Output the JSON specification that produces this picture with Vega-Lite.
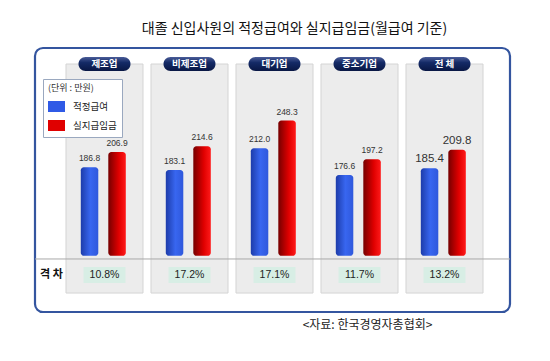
{
  "$schema": "https://vega.github.io/schema/vega-lite/v6.json",
  "width": 475,
  "height": 264,
  "autosize": {"type": "none"},
  "padding": {"left": 35, "top": 48, "right": 40, "bottom": 49},
  "background": "white",
  "title": {
    "text": "대졸 신입사원의 적정급여와 실지급임금(월급여 기준)",
    "font": "Noto Sans CJK KR",
    "fontSize": 14,
    "fontWeight": "normal",
    "color": "#111111",
    "anchor": "middle",
    "frame": "group",
    "dx": 22,
    "offset": 12
  },
  "config": {
    "font": "Noto Sans CJK KR",
    "view": {"stroke": "#34559f", "strokeWidth": 2.2, "cornerRadius": 8, "fill": "#f9fcfe"}
  },
  "datasets": {
    "cats": [
      {"cat": "제조업", "gap": "10.8%"},
      {"cat": "비제조업", "gap": "17.2%"},
      {"cat": "대기업", "gap": "17.1%"},
      {"cat": "중소기업", "gap": "11.7%"},
      {"cat": "전 체", "gap": "13.2%"}
    ],
    "bars": [
      {"cat": "제조업", "series": "적정급여", "value": 186.8},
      {"cat": "제조업", "series": "실지급임금", "value": 206.9},
      {"cat": "비제조업", "series": "적정급여", "value": 183.1},
      {"cat": "비제조업", "series": "실지급임금", "value": 214.6},
      {"cat": "대기업", "series": "적정급여", "value": 212.0},
      {"cat": "대기업", "series": "실지급임금", "value": 248.3},
      {"cat": "중소기업", "series": "적정급여", "value": 176.6},
      {"cat": "중소기업", "series": "실지급임금", "value": 197.2},
      {"cat": "전 체", "series": "적정급여", "value": 185.4},
      {"cat": "전 체", "series": "실지급임금", "value": 209.8}
    ]
  },
  "data": {"name": "cats"},
  "layer": [
    {
      "mark": {"type": "bar", "width": {"band": 0.906}, "fill": "#ececec", "stroke": "#d4d4d4", "strokeWidth": 1},
      "encoding": {
        "x": {"field": "cat", "type": "nominal", "axis": null, "scale": {"domain": ["제조업", "비제조업", "대기업", "중소기업", "전 체"], "paddingInner": 0, "paddingOuter": 0.294, "align": 0.54}},
        "y": {"datum": 322.9, "type": "quantitative", "axis": null, "scale": {"domain": [-4, 344], "nice": false, "zero": false}},
        "y2": {"datum": 21}
      }
    },
    {
      "mark": {"type": "bar", "width": 52, "cornerRadius": 7, "fill": {"gradient": "linear", "x1": 0, "y1": 0, "x2": 0, "y2": 1, "stops": [{"offset": 0, "color": "#4a5c98"}, {"offset": 0.4, "color": "#142a66"}, {"offset": 1, "color": "#091744"}]}},
      "encoding": {
        "x": {"field": "cat", "type": "nominal", "axis": null, "sort": null},
        "y": {"datum": 332.1, "type": "quantitative", "axis": null, "scale": {"domain": [-4, 344], "nice": false, "zero": false}},
        "y2": {"datum": 313.7}
      }
    },
    {
      "mark": {"type": "text", "color": "white", "fontWeight": "bold", "fontSize": 9.5, "baseline": "middle"},
      "encoding": {
        "x": {"field": "cat", "type": "nominal", "axis": null, "sort": null},
        "y": {"datum": 322.9, "type": "quantitative", "axis": null, "scale": {"domain": [-4, 344], "nice": false, "zero": false}},
        "text": {"field": "cat"}
      }
    },
    {
      "data": {"values": [{"line": "separator"}]},
      "mark": {"type": "rule", "color": "#a8a8a8", "strokeWidth": 1},
      "encoding": {
        "y": {"datum": 65.9, "type": "quantitative", "axis": null, "scale": {"domain": [-4, 344], "nice": false, "zero": false}}
      }
    },
    {
      "mark": {"type": "bar", "width": 42, "fill": "#d8eee5"},
      "encoding": {
        "x": {"field": "cat", "type": "nominal", "axis": null, "sort": null},
        "y": {"datum": 55.3, "type": "quantitative", "axis": null, "scale": {"domain": [-4, 344], "nice": false, "zero": false}},
        "y2": {"datum": 34.2}
      }
    },
    {
      "mark": {"type": "text", "fontSize": 10.5, "font": "Liberation Sans", "color": "#222222", "baseline": "middle"},
      "encoding": {
        "x": {"field": "cat", "type": "nominal", "axis": null, "sort": null},
        "y": {"datum": 44.8, "type": "quantitative", "axis": null, "scale": {"domain": [-4, 344], "nice": false, "zero": false}},
        "text": {"field": "gap"}
      }
    },
    {
      "data": {"values": [{"label": "격 차"}]},
      "mark": {"type": "text", "fontSize": 11, "fontWeight": "bold", "dx": -53, "baseline": "middle", "color": "#111111"},
      "encoding": {
        "x": {"datum": "제조업", "type": "nominal", "axis": null},
        "y": {"datum": 44.8, "type": "quantitative", "axis": null, "scale": {"domain": [-4, 344], "nice": false, "zero": false}},
        "text": {"field": "label"}
      }
    },
    {
      "data": {"name": "bars"},
      "transform": [{"filter": "datum.series === '적정급여'"}],
      "mark": {"type": "bar", "cornerRadius": 3, "fill": {"gradient": "linear", "x1": 0, "y1": 0, "x2": 1, "y2": 0, "stops": [{"offset": 0, "color": "#1d3caa"}, {"offset": 0.55, "color": "#3866f0"}, {"offset": 1, "color": "#2f58dc"}]}},
      "encoding": {
        "x": {"field": "cat", "type": "nominal", "axis": null, "sort": null},
        "xOffset": {"field": "series", "type": "nominal", "scale": {"domain": ["적정급여", "실지급임금"], "paddingInner": 0.364, "paddingOuter": 0.727, "align": 0.47}},
        "y": {"field": "value", "type": "quantitative", "axis": null, "scale": {"domain": [-4, 344], "nice": false, "zero": false}},
        "y2": {"datum": 70}
      }
    },
    {
      "data": {"name": "bars"},
      "transform": [{"filter": "datum.series === '실지급임금'"}],
      "mark": {"type": "bar", "cornerRadius": 3, "fill": {"gradient": "linear", "x1": 0, "y1": 0, "x2": 1, "y2": 0, "stops": [{"offset": 0, "color": "#760000"}, {"offset": 0.6, "color": "#e00000"}, {"offset": 1, "color": "#ff1a1a"}]}},
      "encoding": {
        "x": {"field": "cat", "type": "nominal", "axis": null, "sort": null},
        "xOffset": {"field": "series", "type": "nominal"},
        "y": {"field": "value", "type": "quantitative", "axis": null, "scale": {"domain": [-4, 344], "nice": false, "zero": false}},
        "y2": {"datum": 70}
      }
    },
    {
      "data": {"name": "bars"},
      "mark": {"type": "text", "baseline": "bottom", "dy": -4, "font": "Liberation Sans", "color": "#333333"},
      "encoding": {
        "x": {"field": "cat", "type": "nominal", "axis": null, "sort": null},
        "xOffset": {"field": "series", "type": "nominal"},
        "y": {"field": "value", "type": "quantitative", "axis": null, "scale": {"domain": [-4, 344], "nice": false, "zero": false}},
        "text": {"field": "value", "type": "quantitative", "format": ".1f"},
        "size": {"condition": {"test": "datum.cat === '전 체'", "value": 11.5}, "value": 8.5}
      }
    },
    {
      "data": {"name": "bars"},
      "mark": {"type": "point", "filled": true, "opacity": 0},
      "encoding": {
        "color": {
          "field": "series",
          "type": "nominal",
          "scale": {"domain": ["적정급여", "실지급임금"], "range": ["#2f5ae6", "#e00000"]},
          "legend": {
            "title": "(단위 : 만원)",
            "orient": "none",
            "legendX": 8,
            "legendY": 31,
            "symbolType": "M-1,-0.65H1V0.65H-1Z",
            "symbolSize": 289,
            "symbolOpacity": 1,
            "symbolStrokeWidth": 0,
            "labelFontSize": 9.5,
            "labelColor": "#222222",
            "labelOffset": 8,
            "titleFontSize": 9,
            "titleFontWeight": "normal",
            "titleColor": "#333333",
            "padding": 5,
            "rowPadding": 4,
            "fillColor": "white",
            "strokeColor": "#9aa8bf"
          }
        }
      }
    },
    {
      "data": {"values": [{"source": "<자료: 한국경영자총협회>"}]},
      "mark": {"type": "text", "fontSize": 12, "dx": 8, "baseline": "middle", "color": "#222222"},
      "encoding": {
        "x": {"datum": "중소기업", "type": "nominal", "axis": null},
        "y": {"datum": -21.1, "type": "quantitative", "axis": null, "scale": {"domain": [-4, 344], "nice": false, "zero": false}},
        "text": {"field": "source"}
      }
    }
  ]
}
